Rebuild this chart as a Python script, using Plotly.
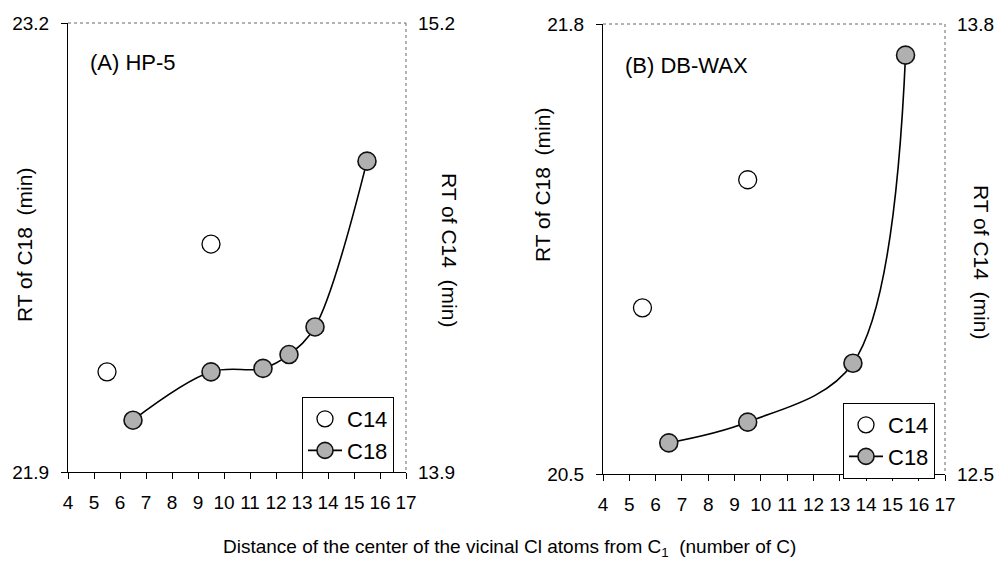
import plotly.graph_objects as go

# ---------------- data ----------------
# Panel A (HP-5)
a_c18_x = [6.5, 9.5, 11.5, 12.5, 13.5, 15.5]
a_c18_y = [22.05, 22.19, 22.20, 22.24, 22.32, 22.80]
a_c14_x = [5.5, 9.5]
a_c14_y = [14.19, 14.56]
# Panel B (DB-WAX)
b_c18_x = [6.5, 9.5, 13.5, 15.5]
b_c18_y = [20.59, 20.65, 20.82, 21.71]
b_c14_x = [5.5, 9.5]
b_c14_y = [12.98, 13.35]

x_ticks = list(range(4, 18))
a_left_ticks = [21.9, 23.2]
a_right_ticks = [13.9, 15.2]
b_left_ticks = [20.5, 21.8]
b_right_ticks = [12.5, 13.8]

FONT = "Arial, Liberation Sans, sans-serif"
W, H = 996, 564

# plot-area pixel boxes
A = dict(l=68, r=406, t=23, b=472)
B = dict(l=603, r=945, t=24, b=474)

def dx(box):
    return [box["l"] / W, box["r"] / W]

def dy(box):
    return [1 - box["b"] / H, 1 - box["t"] / H]

fig = go.Figure()

c14_marker = dict(symbol="circle", size=18, color="white",
                  line=dict(color="black", width=1.3))
c18_marker = dict(symbol="circle", size=18, color="#b0b0b0",
                  line=dict(color="#111", width=1.6))
c18_line = dict(color="black", width=1.6, shape="spline", smoothing=1)

fig.add_trace(go.Scatter(x=a_c14_x, y=a_c14_y, mode="markers", name="C14",
                         marker=c14_marker, xaxis="x", yaxis="y2",
                         legend="legend"))
fig.add_trace(go.Scatter(x=a_c18_x, y=a_c18_y, mode="lines+markers", name="C18",
                         marker=c18_marker, line=c18_line, xaxis="x", yaxis="y",
                         legend="legend"))
fig.add_trace(go.Scatter(x=b_c14_x, y=b_c14_y, mode="markers", name="C14",
                         marker=c14_marker, xaxis="x2", yaxis="y4",
                         legend="legend2"))
fig.add_trace(go.Scatter(x=b_c18_x, y=b_c18_y, mode="lines+markers", name="C18",
                         marker=c18_marker, line=c18_line, xaxis="x2", yaxis="y3",
                         legend="legend2"))

tickfont = dict(family=FONT, size=19, color="black")

def xaxis(box, anchor):
    return dict(domain=dx(box), range=[4, 17], tickvals=x_ticks,
                ticktext=[str(v) for v in x_ticks], anchor=anchor,
                showline=True, linecolor="black", linewidth=1,
                ticks="outside", ticklen=6, tickcolor="black",
                ticklabelstandoff=7, showgrid=False, zeroline=False,
                tickfont=tickfont, fixedrange=True, automargin=False)

def yleft(box, rng, tv, anchor):
    return dict(domain=dy(box), range=rng, tickvals=tv,
                ticktext=[f"{v:.1f}" for v in tv], anchor=anchor,
                showline=True, linecolor="black", linewidth=1,
                ticks="outside", ticklen=6, tickcolor="black",
                ticklabelstandoff=8, showgrid=False, zeroline=False,
                tickfont=tickfont, fixedrange=True, automargin=False)

def yright(box, rng, tv, anchor, overlay):
    return dict(domain=dy(box), range=rng, tickvals=tv,
                ticktext=[f"{v:.1f}" for v in tv], anchor=anchor,
                overlaying=overlay, side="right",
                showline=False, ticks="", ticklabelstandoff=11,
                showgrid=False, zeroline=False,
                tickfont=tickfont, fixedrange=True, automargin=False)

legend_style = dict(bgcolor="white", bordercolor="black", borderwidth=1,
                    font=dict(family=FONT, size=22, color="black"),
                    xanchor="left", yanchor="top", tracegroupgap=0,
                    itemwidth=34)

fig.update_layout(
    width=W, height=H,
    margin=dict(l=0, r=0, t=0, b=0, autoexpand=False),
    paper_bgcolor="white", plot_bgcolor="white",
    font=dict(family=FONT, color="black"),
    xaxis=xaxis(A, "y"),
    yaxis=yleft(A, [21.9, 23.2], a_left_ticks, "x"),
    yaxis2=yright(A, [13.9, 15.2], a_right_ticks, "x", "y"),
    xaxis2=xaxis(B, "y3"),
    yaxis3=yleft(B, [20.5, 21.8], b_left_ticks, "x2"),
    yaxis4=yright(B, [12.5, 13.8], b_right_ticks, "x2", "y3"),
    legend=dict(legend_style, x=302 / W, y=1 - 397 / H),
    legend2=dict(legend_style, x=843 / W, y=1 - 403 / H),
)

# dotted top / right frame lines
shapes = []
for box in (A, B):
    shapes.append(dict(type="line", xref="paper", yref="paper",
                       x0=box["l"] / W, x1=box["r"] / W,
                       y0=1 - box["t"] / H, y1=1 - box["t"] / H,
                       line=dict(color="#666", width=1, dash="dot")))
    shapes.append(dict(type="line", xref="paper", yref="paper",
                       x0=box["r"] / W, x1=box["r"] / W,
                       y0=1 - box["t"] / H, y1=1 - box["b"] / H,
                       line=dict(color="#666", width=1, dash="dot")))
fig.update_layout(shapes=shapes)

ann = []
def add_text(text, px, py, angle=0, size=21, xanchor="center"):
    ann.append(dict(text=text, x=px / W, y=1 - py / H, xref="paper", yref="paper",
                    showarrow=False, textangle=angle, xanchor=xanchor,
                    yanchor="middle", font=dict(family=FONT, size=size, color="black")))

add_text("RT of C18  (min)", 24, 245, angle=-90)
add_text("RT of C14  (min)", 449, 250, angle=90)
add_text("RT of C18  (min)", 542, 185, angle=-90)
add_text("RT of C14  (min)", 982, 262, angle=90)
add_text("(A) HP-5", 88, 63, size=22, xanchor="left")
add_text("(B) DB-WAX", 623, 65, size=22, xanchor="left")
add_text("Distance of the center of the vicinal Cl atoms from C<sub>1</sub>  (number of C)",
         509, 548, size=19)
fig.update_layout(annotations=ann)

fig.write_html("out.html")
